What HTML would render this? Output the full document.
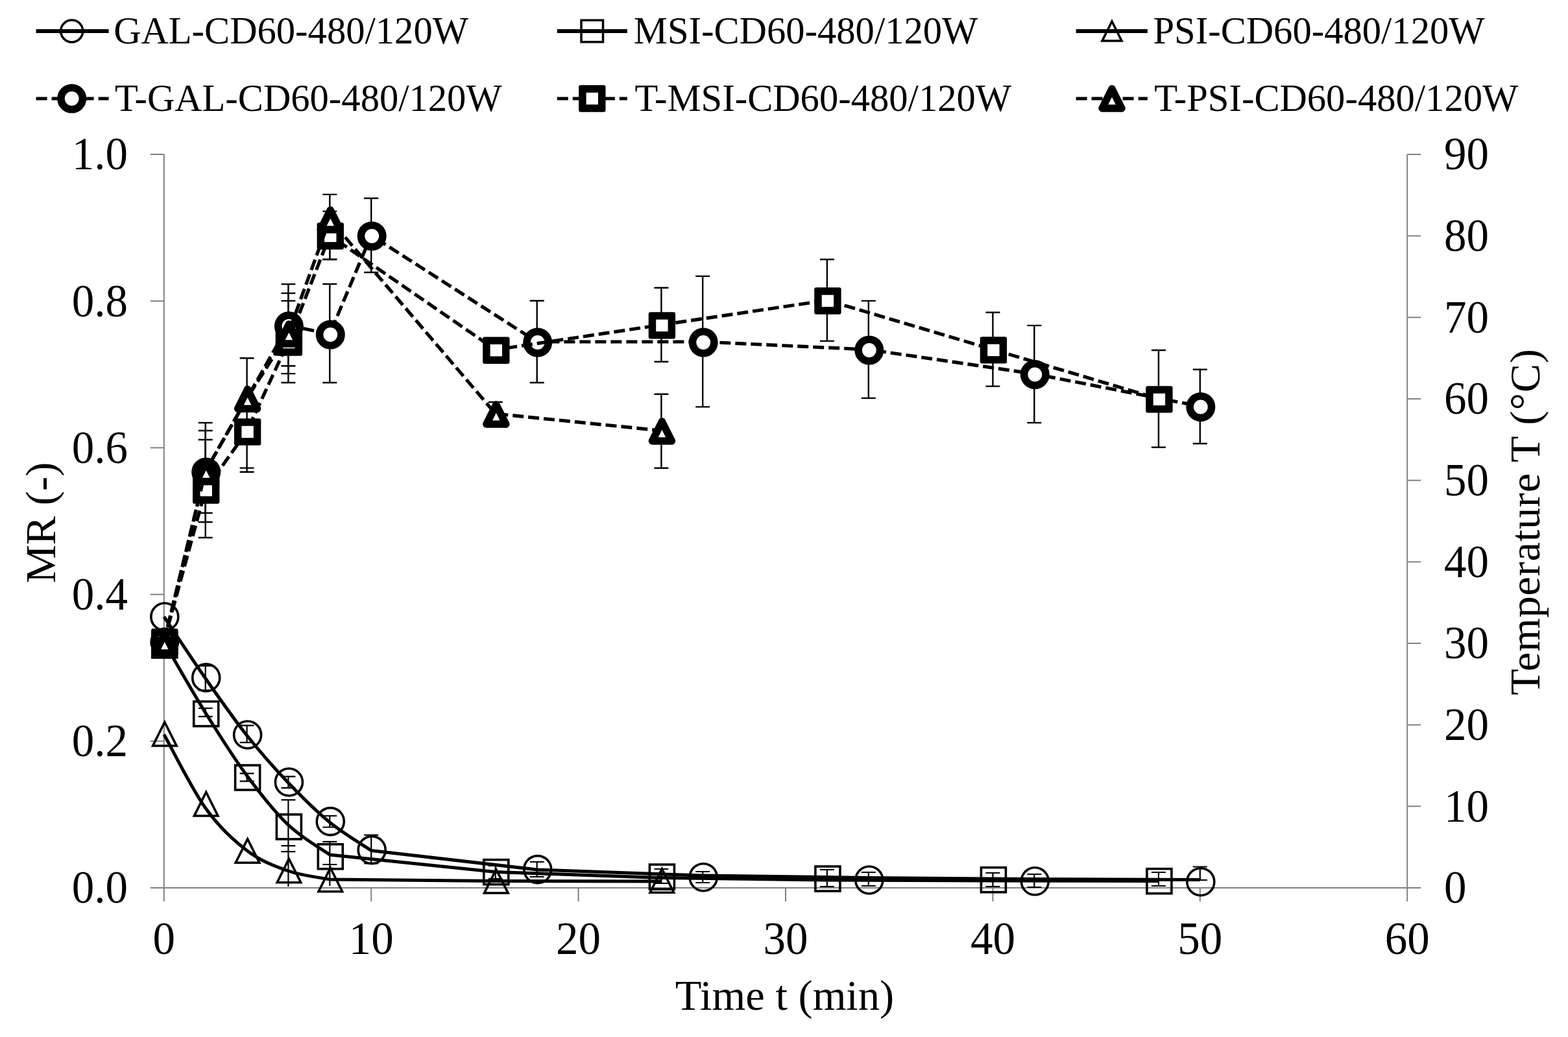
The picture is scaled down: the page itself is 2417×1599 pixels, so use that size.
<!DOCTYPE html>
<html><head><meta charset="utf-8"><title>MR and temperature vs time</title>
<style>html,body{margin:0;padding:0;background:#fff;}svg{display:block;}</style>
</head><body>
<svg width="2417" height="1599" viewBox="0 0 2417 1599">
<rect width="2417" height="1599" fill="#fff"/>
<g stroke="#808080" stroke-width="2" fill="none"><path d="M252.8,238.0V1369.0H2169.2V238.1"/><path d="M231.8,1369.0H252.8"/><path d="M231.8,1142.8H252.8"/><path d="M231.8,916.6H252.8"/><path d="M231.8,690.4H252.8"/><path d="M231.8,464.2H252.8"/><path d="M231.8,238.0H252.8"/><path d="M2169.2,1369.0h21"/><path d="M2169.2,1243.3h21"/><path d="M2169.2,1117.7h21"/><path d="M2169.2,992.0h21"/><path d="M2169.2,866.4h21"/><path d="M2169.2,740.7h21"/><path d="M2169.2,615.0h21"/><path d="M2169.2,489.4h21"/><path d="M2169.2,363.7h21"/><path d="M2169.2,238.1h21"/><path d="M252.8,1369.0v21"/><path d="M572.2,1369.0v21"/><path d="M891.6,1369.0v21"/><path d="M1211.0,1369.0v21"/><path d="M1530.4,1369.0v21"/><path d="M1849.8,1369.0v21"/><path d="M2169.2,1369.0v21"/></g>
<text transform="translate(197.0,1392.3) scale(1,1.035)" text-anchor="end" font-family='"Liberation Serif", "Times New Roman", serif' font-size="69">0.0</text>
<text transform="translate(197.0,1166.1) scale(1,1.035)" text-anchor="end" font-family='"Liberation Serif", "Times New Roman", serif' font-size="69">0.2</text>
<text transform="translate(197.0,939.9) scale(1,1.035)" text-anchor="end" font-family='"Liberation Serif", "Times New Roman", serif' font-size="69">0.4</text>
<text transform="translate(197.0,713.7) scale(1,1.035)" text-anchor="end" font-family='"Liberation Serif", "Times New Roman", serif' font-size="69">0.6</text>
<text transform="translate(197.0,487.5) scale(1,1.035)" text-anchor="end" font-family='"Liberation Serif", "Times New Roman", serif' font-size="69">0.8</text>
<text transform="translate(197.0,261.3) scale(1,1.035)" text-anchor="end" font-family='"Liberation Serif", "Times New Roman", serif' font-size="69">1.0</text>
<text transform="translate(2226.0,1392.3) scale(1,1.035)" text-anchor="start" font-family='"Liberation Serif", "Times New Roman", serif' font-size="69">0</text>
<text transform="translate(2226.0,1266.6) scale(1,1.035)" text-anchor="start" font-family='"Liberation Serif", "Times New Roman", serif' font-size="69">10</text>
<text transform="translate(2226.0,1141.0) scale(1,1.035)" text-anchor="start" font-family='"Liberation Serif", "Times New Roman", serif' font-size="69">20</text>
<text transform="translate(2226.0,1015.3) scale(1,1.035)" text-anchor="start" font-family='"Liberation Serif", "Times New Roman", serif' font-size="69">30</text>
<text transform="translate(2226.0,889.7) scale(1,1.035)" text-anchor="start" font-family='"Liberation Serif", "Times New Roman", serif' font-size="69">40</text>
<text transform="translate(2226.0,764.0) scale(1,1.035)" text-anchor="start" font-family='"Liberation Serif", "Times New Roman", serif' font-size="69">50</text>
<text transform="translate(2226.0,638.3) scale(1,1.035)" text-anchor="start" font-family='"Liberation Serif", "Times New Roman", serif' font-size="69">60</text>
<text transform="translate(2226.0,512.7) scale(1,1.035)" text-anchor="start" font-family='"Liberation Serif", "Times New Roman", serif' font-size="69">70</text>
<text transform="translate(2226.0,387.0) scale(1,1.035)" text-anchor="start" font-family='"Liberation Serif", "Times New Roman", serif' font-size="69">80</text>
<text transform="translate(2226.0,261.4) scale(1,1.035)" text-anchor="start" font-family='"Liberation Serif", "Times New Roman", serif' font-size="69">90</text>
<text transform="translate(252.8,1471.0) scale(1,1.035)" text-anchor="middle" font-family='"Liberation Serif", "Times New Roman", serif' font-size="69">0</text>
<text transform="translate(572.2,1471.0) scale(1,1.035)" text-anchor="middle" font-family='"Liberation Serif", "Times New Roman", serif' font-size="69">10</text>
<text transform="translate(891.6,1471.0) scale(1,1.035)" text-anchor="middle" font-family='"Liberation Serif", "Times New Roman", serif' font-size="69">20</text>
<text transform="translate(1211.0,1471.0) scale(1,1.035)" text-anchor="middle" font-family='"Liberation Serif", "Times New Roman", serif' font-size="69">30</text>
<text transform="translate(1530.4,1471.0) scale(1,1.035)" text-anchor="middle" font-family='"Liberation Serif", "Times New Roman", serif' font-size="69">40</text>
<text transform="translate(1849.8,1471.0) scale(1,1.035)" text-anchor="middle" font-family='"Liberation Serif", "Times New Roman", serif' font-size="69">50</text>
<text transform="translate(2169.2,1471.0) scale(1,1.035)" text-anchor="middle" font-family='"Liberation Serif", "Times New Roman", serif' font-size="69">60</text>
<text x="1209.5" y="1557" text-anchor="middle" font-family='"Liberation Serif", "Times New Roman", serif' font-size="66.5">Time t (min)</text>
<text transform="translate(85,806) rotate(-90)" text-anchor="middle" font-family='"Liberation Serif", "Times New Roman", serif' font-size="66.5">MR (-)</text>
<text transform="translate(2373,805) rotate(-90)" text-anchor="middle" textLength="534" lengthAdjust="spacing" font-family='"Liberation Serif", "Times New Roman", serif' font-size="66.5">Temperature T (°C)</text>
<path d="M316.7,1026.7V1064.4M305.7,1026.7h22M305.7,1064.4h22" stroke="#000" stroke-width="2.2" fill="none"/>
<path d="M380.6,1118.6V1144.8M369.6,1118.6h22M369.6,1144.8h22" stroke="#000" stroke-width="2.2" fill="none"/>
<path d="M444.4,1197.4V1214.9M433.4,1197.4h22M433.4,1214.9h22" stroke="#000" stroke-width="2.2" fill="none"/>
<path d="M508.3,1258.0V1275.5M497.3,1258.0h22M497.3,1275.5h22" stroke="#000" stroke-width="2.2" fill="none"/>
<path d="M572.2,1287.7V1331.4M561.2,1287.7h22M561.2,1331.4h22" stroke="#000" stroke-width="2.2" fill="none"/>
<path d="M316.7,1092.0V1104.9M305.7,1092.0h22M305.7,1104.9h22" stroke="#000" stroke-width="2.2" fill="none"/>
<path d="M380.6,1192.6V1204.7M369.6,1192.6h22M369.6,1204.7h22" stroke="#000" stroke-width="2.2" fill="none"/>
<path d="M444.4,1233.4V1313.2M433.4,1233.4h22M433.4,1304.2h22M433.4,1313.2h22" stroke="#000" stroke-width="2.2" fill="none"/>
<path d="M508.3,1297.9V1333.0M497.3,1297.9h22M497.3,1333.0h22" stroke="#000" stroke-width="2.2" fill="none"/>
<path d="M827.7,1329.0V1352.0M816.7,1329.0h22M816.7,1352.0h22" stroke="#000" stroke-width="2.2" fill="none"/>
<path d="M1083.2,1344.0V1361.0M1072.2,1344.0h22M1072.2,1361.0h22" stroke="#000" stroke-width="2.2" fill="none"/>
<path d="M1338.8,1345.0V1366.0M1327.8,1345.0h22M1327.8,1366.0h22" stroke="#000" stroke-width="2.2" fill="none"/>
<path d="M1594.3,1348.0V1368.0M1583.3,1348.0h22M1583.3,1368.0h22" stroke="#000" stroke-width="2.2" fill="none"/>
<path d="M1849.8,1336.5V1357.0M1838.8,1336.5h22M1838.8,1357.0h22" stroke="#000" stroke-width="2.2" fill="none"/>
<path d="M763.8,1335.0V1355.0M752.8,1335.0h22M752.8,1355.0h22" stroke="#000" stroke-width="2.2" fill="none"/>
<path d="M1019.4,1340.0V1362.0M1008.4,1340.0h22M1008.4,1362.0h22" stroke="#000" stroke-width="2.2" fill="none"/>
<path d="M1274.9,1341.0V1367.0M1263.9,1341.0h22M1263.9,1367.0h22" stroke="#000" stroke-width="2.2" fill="none"/>
<path d="M1530.4,1346.0V1367.0M1519.4,1346.0h22M1519.4,1367.0h22" stroke="#000" stroke-width="2.2" fill="none"/>
<path d="M1785.9,1345.0V1366.0M1774.9,1345.0h22M1774.9,1366.0h22" stroke="#000" stroke-width="2.2" fill="none"/>
<path d="M444.4,1313V1367" stroke="#000" stroke-width="2.2"/>
<path d="M508.3,1333V1366" stroke="#000" stroke-width="2.2"/>
<path d="M316.7,651.9V829.0M305.7,651.9h22M305.7,829.0h22" stroke="#000" stroke-width="2.4" fill="none"/>
<path d="M508.3,438.0V590.0M497.3,438.0h22M497.3,590.0h22" stroke="#000" stroke-width="2.4" fill="none"/>
<path d="M572.2,305.8V420.0M561.2,305.8h22M561.2,420.0h22" stroke="#000" stroke-width="2.4" fill="none"/>
<path d="M827.7,463.7V590.0M816.7,463.7h22M816.7,590.0h22" stroke="#000" stroke-width="2.4" fill="none"/>
<path d="M1083.2,425.9V627.4M1072.2,425.9h22M1072.2,627.4h22" stroke="#000" stroke-width="2.4" fill="none"/>
<path d="M1338.8,463.9V613.9M1327.8,463.9h22M1327.8,613.9h22" stroke="#000" stroke-width="2.4" fill="none"/>
<path d="M1594.3,501.9V651.9M1583.3,501.9h22M1583.3,651.9h22" stroke="#000" stroke-width="2.4" fill="none"/>
<path d="M1849.8,569.8V684.0M1838.8,569.8h22M1838.8,684.0h22" stroke="#000" stroke-width="2.4" fill="none"/>
<path d="M316.7,664.0V805.0M305.7,664.0h22M305.7,805.0h22" stroke="#000" stroke-width="2.4" fill="none"/>
<path d="M444.4,452.1V576.1M433.4,452.1h22M433.4,576.1h22" stroke="#000" stroke-width="2.4" fill="none"/>
<path d="M508.3,325.9V400.0M497.3,325.9h22M497.3,400.0h22" stroke="#000" stroke-width="2.4" fill="none"/>
<path d="M1019.4,443.8V557.8M1008.4,443.8h22M1008.4,557.8h22" stroke="#000" stroke-width="2.4" fill="none"/>
<path d="M1274.9,400.0V525.9M1263.9,400.0h22M1263.9,525.9h22" stroke="#000" stroke-width="2.4" fill="none"/>
<path d="M1530.4,481.8V595.6M1519.4,481.8h22M1519.4,595.6h22" stroke="#000" stroke-width="2.4" fill="none"/>
<path d="M1785.9,540.0V689.8M1774.9,540.0h22M1774.9,689.8h22" stroke="#000" stroke-width="2.4" fill="none"/>
<path d="M316.7,678.0V791.0M305.7,678.0h22M305.7,791.0h22" stroke="#000" stroke-width="2.4" fill="none"/>
<path d="M380.6,552.2V727.7M369.6,552.2h22M369.6,678.0h22M369.6,721.6h22M369.6,727.7h22" stroke="#000" stroke-width="2.4" fill="none"/>
<path d="M444.4,438.1V590.0M433.4,438.1h22M433.4,463.9h22M433.4,564.2h22M433.4,590.0h22" stroke="#000" stroke-width="2.4" fill="none"/>
<path d="M508.3,299.9V400.0M497.3,299.9h22M497.3,400.0h22" stroke="#000" stroke-width="2.4" fill="none"/>
<path d="M763.8,620.0V650.0M752.8,620.0h22M752.8,650.0h22" stroke="#000" stroke-width="2.4" fill="none"/>
<path d="M1019.4,607.8V721.8M1008.4,607.8h22M1008.4,721.8h22" stroke="#000" stroke-width="2.4" fill="none"/>
<path d="M252.8,951.0 C263.4,966.8 295.4,1015.5 316.7,1046.0 C338.0,1076.5 359.3,1107.2 380.6,1134.0 C401.9,1160.8 423.1,1184.7 444.4,1207.0 C465.7,1229.3 487.0,1250.6 508.3,1268.0 C529.6,1285.4 561.6,1304.2 572.2,1311.4 L827.7,1341.0 L1083.2,1350.0 L1338.8,1353.5 L1594.3,1355.5 L1849.8,1356.5" fill="none" stroke="#000" stroke-width="5" stroke-linejoin="round"/>
<circle cx="253.8" cy="951.0" r="21" fill="none" stroke="#000" stroke-width="3.6"/>
<circle cx="317.7" cy="1044.9" r="21" fill="none" stroke="#000" stroke-width="3.6"/>
<circle cx="381.6" cy="1133.0" r="21" fill="none" stroke="#000" stroke-width="3.6"/>
<circle cx="445.4" cy="1206.0" r="21" fill="none" stroke="#000" stroke-width="3.6"/>
<circle cx="509.3" cy="1266.6" r="21" fill="none" stroke="#000" stroke-width="3.6"/>
<circle cx="573.2" cy="1310.6" r="21" fill="none" stroke="#000" stroke-width="3.6"/>
<circle cx="828.7" cy="1340.6" r="21" fill="none" stroke="#000" stroke-width="3.6"/>
<circle cx="1084.2" cy="1352.7" r="21" fill="none" stroke="#000" stroke-width="3.6"/>
<circle cx="1339.8" cy="1357.0" r="21" fill="none" stroke="#000" stroke-width="3.6"/>
<circle cx="1595.3" cy="1358.8" r="21" fill="none" stroke="#000" stroke-width="3.6"/>
<circle cx="1850.8" cy="1359.7" r="21" fill="none" stroke="#000" stroke-width="3.6"/>
<path d="M252.8,990.0 C263.4,1008.2 295.4,1064.7 316.7,1099.0 C338.0,1133.3 359.3,1167.2 380.6,1196.0 C401.9,1224.8 423.1,1251.7 444.4,1272.0 C465.7,1292.3 497.7,1310.3 508.3,1318.0 L763.8,1344.5 L1019.4,1353.5 L1274.9,1357.0 L1530.4,1358.0 L1785.9,1358.5" fill="none" stroke="#000" stroke-width="5" stroke-linejoin="round"/>
<rect x="234.8" y="976.0" width="38" height="38" fill="none" stroke="#000" stroke-width="3.6" stroke-linejoin="miter"/>
<rect x="298.7" y="1081.7" width="38" height="38" fill="none" stroke="#000" stroke-width="3.6" stroke-linejoin="miter"/>
<rect x="362.6" y="1180.0" width="38" height="38" fill="none" stroke="#000" stroke-width="3.6" stroke-linejoin="miter"/>
<rect x="426.4" y="1255.9" width="38" height="38" fill="none" stroke="#000" stroke-width="3.6" stroke-linejoin="miter"/>
<rect x="490.3" y="1301.8" width="38" height="38" fill="none" stroke="#000" stroke-width="3.6" stroke-linejoin="miter"/>
<rect x="745.8" y="1325.7" width="38" height="38" fill="none" stroke="#000" stroke-width="3.6" stroke-linejoin="miter"/>
<rect x="1001.4" y="1333.1" width="38" height="38" fill="none" stroke="#000" stroke-width="3.6" stroke-linejoin="miter"/>
<rect x="1256.9" y="1336.0" width="38" height="38" fill="none" stroke="#000" stroke-width="3.6" stroke-linejoin="miter"/>
<rect x="1512.4" y="1337.7" width="38" height="38" fill="none" stroke="#000" stroke-width="3.6" stroke-linejoin="miter"/>
<rect x="1767.9" y="1339.7" width="38" height="38" fill="none" stroke="#000" stroke-width="3.6" stroke-linejoin="miter"/>
<path d="M252.8,1132.5 C263.4,1151.4 295.4,1216.2 316.7,1246.0 C338.0,1275.8 359.3,1295.3 380.6,1311.5 C401.9,1327.7 423.1,1335.6 444.4,1343.0 C465.7,1350.4 497.7,1353.8 508.3,1356.0 L763.8,1358.5 L1019.4,1359.0" fill="none" stroke="#000" stroke-width="5" stroke-linejoin="round"/>
<polygon points="253.8,1113.5 272.1,1150.0 235.6,1150.0" fill="none" stroke="#000" stroke-width="3.6" stroke-linejoin="miter"/>
<polygon points="317.7,1221.5 335.9,1258.0 299.4,1258.0" fill="none" stroke="#000" stroke-width="3.6" stroke-linejoin="miter"/>
<polygon points="381.6,1293.7 399.8,1330.2 363.3,1330.2" fill="none" stroke="#000" stroke-width="3.6" stroke-linejoin="miter"/>
<polygon points="445.4,1324.2 463.7,1360.8 427.2,1360.8" fill="none" stroke="#000" stroke-width="3.6" stroke-linejoin="miter"/>
<polygon points="509.3,1338.2 527.6,1374.8 491.1,1374.8" fill="none" stroke="#000" stroke-width="3.6" stroke-linejoin="miter"/>
<polygon points="764.8,1340.5 783.1,1377.0 746.6,1377.0" fill="none" stroke="#000" stroke-width="3.6" stroke-linejoin="miter"/>
<polygon points="1020.4,1339.8 1038.6,1376.2 1002.1,1376.2" fill="none" stroke="#000" stroke-width="3.6" stroke-linejoin="miter"/>
<path d="M252.8,989.0 L316.7,727.0 L444.4,501.8 L508.3,515.0 L572.2,363.0 L827.7,527.0 L1083.2,527.0 L1338.8,539.0 L1594.3,576.5 L1849.8,626.5" fill="none" stroke="#000" stroke-width="5.2" stroke-dasharray="17 7" stroke-linejoin="round"/>
<circle cx="253.8" cy="990.0" r="16.7" fill="#fff" stroke="#000" stroke-width="11.6"/>
<circle cx="317.7" cy="728.0" r="16.7" fill="#fff" stroke="#000" stroke-width="11.6"/>
<circle cx="445.4" cy="502.8" r="16.7" fill="#fff" stroke="#000" stroke-width="11.6"/>
<circle cx="509.3" cy="516.0" r="16.7" fill="#fff" stroke="#000" stroke-width="11.6"/>
<circle cx="573.2" cy="364.0" r="16.7" fill="#fff" stroke="#000" stroke-width="11.6"/>
<circle cx="828.7" cy="528.0" r="16.7" fill="#fff" stroke="#000" stroke-width="11.6"/>
<circle cx="1084.2" cy="528.0" r="16.7" fill="#fff" stroke="#000" stroke-width="11.6"/>
<circle cx="1339.8" cy="540.0" r="16.7" fill="#fff" stroke="#000" stroke-width="11.6"/>
<circle cx="1595.3" cy="577.5" r="16.7" fill="#fff" stroke="#000" stroke-width="11.6"/>
<circle cx="1850.8" cy="627.5" r="16.7" fill="#fff" stroke="#000" stroke-width="11.6"/>
<path d="M252.8,989.0 L316.7,755.0 L380.6,665.0 L444.4,527.0 L508.3,363.0 L763.8,539.2 L1019.4,500.9 L1274.9,463.0 L1530.4,538.9 L1785.9,614.9" fill="none" stroke="#000" stroke-width="5.2" stroke-dasharray="17 7" stroke-linejoin="round"/>
<rect x="233.1" y="969.3" width="41.4" height="41.4" rx="3" fill="#000"/><rect x="244.6" y="980.8" width="18.4" height="18.4" fill="#fff"/>
<rect x="297.0" y="735.3" width="41.4" height="41.4" rx="3" fill="#000"/><rect x="308.5" y="746.8" width="18.4" height="18.4" fill="#fff"/>
<rect x="360.9" y="645.3" width="41.4" height="41.4" rx="3" fill="#000"/><rect x="372.4" y="656.8" width="18.4" height="18.4" fill="#fff"/>
<rect x="424.7" y="507.3" width="41.4" height="41.4" rx="3" fill="#000"/><rect x="436.2" y="518.8" width="18.4" height="18.4" fill="#fff"/>
<rect x="488.6" y="343.3" width="41.4" height="41.4" rx="3" fill="#000"/><rect x="500.1" y="354.8" width="18.4" height="18.4" fill="#fff"/>
<rect x="744.1" y="519.5" width="41.4" height="41.4" rx="3" fill="#000"/><rect x="755.6" y="531.0" width="18.4" height="18.4" fill="#fff"/>
<rect x="999.7" y="481.2" width="41.4" height="41.4" rx="3" fill="#000"/><rect x="1011.2" y="492.7" width="18.4" height="18.4" fill="#fff"/>
<rect x="1255.2" y="443.3" width="41.4" height="41.4" rx="3" fill="#000"/><rect x="1266.7" y="454.8" width="18.4" height="18.4" fill="#fff"/>
<rect x="1510.7" y="519.2" width="41.4" height="41.4" rx="3" fill="#000"/><rect x="1522.2" y="530.7" width="18.4" height="18.4" fill="#fff"/>
<rect x="1766.2" y="595.2" width="41.4" height="41.4" rx="3" fill="#000"/><rect x="1777.7" y="606.7" width="18.4" height="18.4" fill="#fff"/>
<path d="M252.8,991.0 L316.7,726.5 L380.6,614.3 L444.4,514.0 L508.3,338.0 L763.8,638.0 L1019.4,664.0" fill="none" stroke="#000" stroke-width="5.2" stroke-dasharray="17 7" stroke-linejoin="round"/>
<polygon points="253.8,977.0 268.8,1007.0 238.8,1007.0" fill="#fff" stroke="#000" stroke-width="11.5" stroke-linejoin="round"/>
<polygon points="317.7,712.5 332.7,742.5 302.7,742.5" fill="#fff" stroke="#000" stroke-width="11.5" stroke-linejoin="round"/>
<polygon points="381.6,600.3 396.6,630.3 366.6,630.3" fill="#fff" stroke="#000" stroke-width="11.5" stroke-linejoin="round"/>
<polygon points="445.4,500.0 460.4,530.0 430.4,530.0" fill="#fff" stroke="#000" stroke-width="11.5" stroke-linejoin="round"/>
<polygon points="509.3,324.0 524.3,354.0 494.3,354.0" fill="#fff" stroke="#000" stroke-width="11.5" stroke-linejoin="round"/>
<polygon points="764.8,624.0 779.8,654.0 749.8,654.0" fill="#fff" stroke="#000" stroke-width="11.5" stroke-linejoin="round"/>
<polygon points="1020.4,650.0 1035.4,680.0 1005.4,680.0" fill="#fff" stroke="#000" stroke-width="11.5" stroke-linejoin="round"/>
<path d="M55.6,48H167.6" stroke="#000" stroke-width="6"/>
<circle cx="110.7" cy="48.0" r="17" fill="none" stroke="#000" stroke-width="3.5"/>
<text x="175.2" y="66.5" font-family='"Liberation Serif", "Times New Roman", serif' font-size="58.6">GAL-CD60-480/120W</text>
<path d="M55.6,152H167.6" stroke="#000" stroke-width="5.2" stroke-dasharray="17 7"/>
<circle cx="110.7" cy="152.0" r="16.7" fill="#fff" stroke="#000" stroke-width="11.6"/>
<text x="177.0" y="170.5" font-family='"Liberation Serif", "Times New Roman", serif' font-size="58.6">T-GAL-CD60-480/120W</text>
<path d="M858.8,48H966.8" stroke="#000" stroke-width="6"/>
<rect x="896.0" y="31.2" width="33.5" height="33.5" fill="none" stroke="#000" stroke-width="3.5" stroke-linejoin="miter"/>
<text x="976.8" y="66.5" font-family='"Liberation Serif", "Times New Roman", serif' font-size="58.6">MSI-CD60-480/120W</text>
<path d="M858.8,152H966.8" stroke="#000" stroke-width="5.2" stroke-dasharray="17 7"/>
<rect x="892.1" y="131.3" width="41.4" height="41.4" rx="3" fill="#000"/><rect x="903.6" y="142.8" width="18.4" height="18.4" fill="#fff"/>
<text x="978.6" y="170.5" font-family='"Liberation Serif", "Times New Roman", serif' font-size="58.6">T-MSI-CD60-480/120W</text>
<path d="M1658.6,48H1768.9" stroke="#000" stroke-width="6"/>
<polygon points="1714.0,33.0 1729.0,63.0 1699.0,63.0" fill="none" stroke="#000" stroke-width="3.5" stroke-linejoin="miter"/>
<text x="1777.5" y="66.5" font-family='"Liberation Serif", "Times New Roman", serif' font-size="58.6">PSI-CD60-480/120W</text>
<path d="M1658.6,152H1768.9" stroke="#000" stroke-width="5.2" stroke-dasharray="17 7"/>
<polygon points="1714.0,137.0 1729.0,167.0 1699.0,167.0" fill="#fff" stroke="#000" stroke-width="11.5" stroke-linejoin="round"/>
<text x="1779.3" y="170.5" font-family='"Liberation Serif", "Times New Roman", serif' font-size="58.6">T-PSI-CD60-480/120W</text>
</svg>
</body></html>
